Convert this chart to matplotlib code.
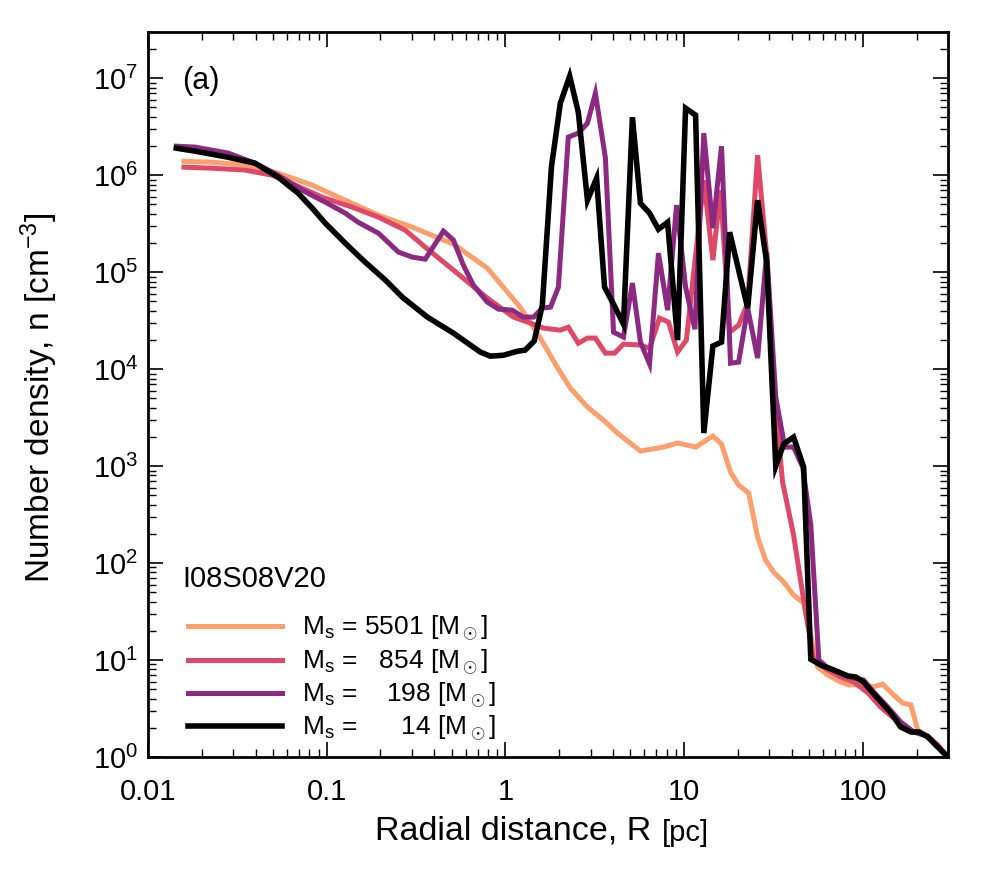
import matplotlib
matplotlib.use("Agg")
import matplotlib.pyplot as plt
from matplotlib.ticker import FixedLocator, FixedFormatter, LogLocator, NullFormatter

plt.rcParams['font.family'] = ['Liberation Sans', 'DejaVu Sans']
plt.rcParams['mathtext.fontset'] = 'custom'
plt.rcParams['mathtext.rm'] = 'Liberation Sans'
plt.rcParams['mathtext.it'] = 'Liberation Sans:italic'
plt.rcParams['mathtext.bf'] = 'Liberation Sans:bold'

# ---- data (R in pc, n in cm^-3) ----
r_5501 = [0.0159, 0.0229, 0.0349, 0.0535, 0.0830, 0.127, 0.195, 0.301, 0.512, 0.792,
          1.21, 1.51, 1.95, 2.31, 2.88, 3.54, 4.24, 5.70, 7.67, 9.20,
          11.6, 14.5, 16.2, 18.2, 20.2, 23.0, 25.8, 28.6, 31.7, 36.1,
          41.0, 46.7, 56.0, 63.7, 75.3, 83.6, 97.5, 115, 129, 149,
          167, 186, 203, 231, 299]
n_5501 = [1.39e6, 1.36e6, 1.27e6, 1.05e6, 7.89e5, 5.52e5, 3.87e5, 2.91e5, 1.95e5, 1.10e5,
          4.36e4, 2.35e4, 1.05e4, 6.37e3, 4.06e3, 2.98e3, 2.19e3, 1.43e3, 1.57e3, 1.73e3,
          1.57e3, 2.04e3, 1.69e3, 867, 637, 527, 185, 107, 80.7, 63.7,
          46.8, 38.7, 8.47, 7.00, 5.93, 5.52, 5.66, 5.27, 5.66, 4.36,
          3.61, 3.44, 1.90, 1.64, 1.0]

r_854 = [0.0159, 0.0229, 0.0349, 0.0495, 0.0667, 0.0944, 0.139, 0.195, 0.275, 0.356,
         0.512, 0.792, 1.11, 1.38, 1.63, 2.03, 2.25, 2.56, 2.88, 3.19,
         3.63, 4.08, 4.58, 5.70, 6.41, 7.29, 8.18, 9.20, 10.3, 12.9,
         14.5, 16.0, 18.0, 20.2, 22.7, 25.8, 29.0, 32.1, 35.6, 41.0,
         46.7, 53.1, 63.7, 75.3, 89.1, 107, 126, 149, 179, 203,
         231, 263, 299]
n_854 = [1.21e6, 1.18e6, 1.13e6, 1.00e6, 7.89e5, 5.93e5, 4.68e5, 3.69e5, 2.71e5, 1.81e5,
         1.05e5, 5.40e4, 3.44e4, 2.98e4, 2.65e4, 2.52e4, 2.71e4, 1.85e4, 2.09e4, 2.09e4,
         1.46e4, 1.46e4, 1.81e4, 1.77e4, 1.64e4, 3.36e4, 3.05e4, 1.50e4, 1.99e4, 8.87e5,
         1.33e5, 7.00e5, 2.40e4, 2.84e4, 4.79e4, 1.61e6, 1.50e5, 5.14e3, 684, 195,
         41.6, 10.0, 7.89, 6.68, 5.93, 4.57, 3.27, 2.52, 1.90, 1.77,
         1.64, 1.33, 1.0]

r_198 = [0.0144, 0.0183, 0.0281, 0.0397, 0.0535, 0.0729, 0.0982, 0.127, 0.150, 0.195,
         0.252, 0.301, 0.356, 0.450, 0.512, 0.582, 0.662, 0.792, 0.914, 1.09,
         1.26, 1.44, 1.61, 1.79, 1.98, 2.25, 2.56, 2.88, 3.19, 3.63,
         4.03, 4.58, 5.14, 5.70, 6.41, 7.19, 8.09, 9.08, 10.2, 11.5,
         12.9, 14.5, 16.2, 18.2, 20.2, 22.7, 25.8, 29.0, 32.6, 36.6,
         41.0, 46.1, 51.2, 56.8, 63.7, 75.3, 89.1, 101, 115, 138,
         163, 193, 231, 299]
n_198 = [1.99e6, 1.95e6, 1.69e6, 1.33e6, 1.00e6, 7.00e5, 5.27e5, 4.06e5, 3.27e5, 2.52e5,
         1.61e5, 1.43e5, 1.36e5, 2.65e5, 2.14e5, 1.18e5, 7.35e4, 4.91e4, 4.16e4, 4.06e4,
         3.44e4, 3.44e4, 4.26e4, 4.36e4, 7.00e4, 2.47e6, 2.71e6, 3.44e6, 7.00e6, 1.50e6,
         2.40e4, 2.14e4, 7.71e4, 1.90e4, 1.13e4, 1.57e5, 4.06e4, 4.91e5, 7.00e4, 2.58e4,
         2.71e6, 2.84e5, 1.99e6, 1.15e4, 1.18e4, 4.26e4, 1.30e4, 1.61e5, 5.14e3, 1.57e3,
         1.57e3, 977, 247, 10.0, 8.28, 7.35, 6.52, 6.22, 4.68, 3.27,
         2.30, 1.81, 1.64, 1.0]

r_14 = [0.0144, 0.0183, 0.0281, 0.0397, 0.0535, 0.0692, 0.0830, 0.0982, 0.127, 0.164,
        0.213, 0.265, 0.366, 0.512, 0.724, 0.824, 0.975, 1.17, 1.29, 1.45,
        1.61, 1.81, 2.03, 2.29, 2.56, 2.88, 3.24, 3.59, 4.03, 4.58,
        5.14, 5.70, 6.41, 7.19, 8.09, 9.20, 10.2, 11.6, 12.9, 14.5,
        16.2, 18.0, 22.7, 25.8, 29.0, 32.6, 36.1, 41.0, 46.7, 51.2,
        58.2, 68.9, 82.4, 91.4, 101, 121, 144, 163, 186, 206,
        231, 299]
n_14 = [1.90e6, 1.77e6, 1.53e6, 1.33e6, 9.53e5, 6.52e5, 4.57e5, 3.20e5, 1.99e5, 1.27e5,
        8.28e4, 5.52e4, 3.44e4, 2.35e4, 1.50e4, 1.36e4, 1.39e4, 1.53e4, 1.57e4, 1.95e4,
        4.57e4, 1.21e6, 5.52e6, 1.05e7, 4.46e6, 5.52e5, 9.31e5, 7.00e4, 4.68e4, 2.91e4,
        3.96e6, 5.14e5, 4.06e5, 2.77e5, 3.27e5, 1.99e4, 4.91e6, 4.16e6, 2.19e3, 1.73e4,
        1.90e4, 2.58e5, 4.26e4, 5.52e5, 1.27e5, 1.00e3, 1.69e3, 1.99e3, 977, 10.2,
        8.87, 7.89, 6.84, 6.68, 5.93, 4.06, 2.84, 2.04, 1.81, 1.81,
        1.61, 1.0]

series_r = [r_5501, r_854, r_198, r_14]
series_n = [n_5501, n_854, n_198, n_14]
series_labels = [r'M$_\mathrm{s}$ = 5501 [M$_\odot$]',
                 r'M$_\mathrm{s}$ =   854 [M$_\odot$]',
                 r'M$_\mathrm{s}$ =    198 [M$_\odot$]',
                 r'M$_\mathrm{s}$ =      14 [M$_\odot$]']
series_colors = ['#fe9f6d', '#de4968', '#8c2981', '#000000']
series_widths = [3.6, 3.6, 3.6, 4.0]

x_ticks = [0.01, 0.1, 1, 10, 100]
x_tick_labels = ['0.01', '0.1', '1', '10', '100']


def main() -> None:
    fig = plt.figure(figsize=(9.96, 8.73), dpi=100)
    ax = fig.add_axes([0.1486, 0.1329, 0.8032, 0.8305])

    for r, n, lab, c, w in zip(series_r, series_n, series_labels, series_colors, series_widths):
        ax.plot(r, n, color=c, lw=w, label=lab, solid_joinstyle='miter')

    ax.set_xscale('log')
    ax.set_yscale('log')
    ax.set_xlim(0.01, 300)
    ax.set_ylim(1, 3e7)

    ax.xaxis.set_major_locator(FixedLocator(x_ticks))
    ax.xaxis.set_major_formatter(FixedFormatter(x_tick_labels))
    ax.xaxis.set_minor_locator(LogLocator(base=10, subs=range(2, 10), numticks=20))
    ax.xaxis.set_minor_formatter(NullFormatter())
    ax.yaxis.set_major_locator(LogLocator(base=10, numticks=20))
    ax.yaxis.set_minor_locator(LogLocator(base=10, subs=range(2, 10), numticks=20))
    ax.yaxis.set_minor_formatter(NullFormatter())

    ax.tick_params(which='both', direction='in', top=True, right=True)
    ax.tick_params(which='major', length=11, width=1.2, labelsize=21)
    ax.tick_params(which='minor', length=6, width=1.0)
    ax.tick_params(axis='x', which='major', pad=15)
    ax.tick_params(axis='y', which='major', pad=7)
    for s in ax.spines.values():
        s.set_linewidth(2)

    ax.set_xlabel('Radial distance, R', fontsize=24.5)
    ax.xaxis.set_label_coords(0.457, -0.081)
    ax.annotate('[pc]', xy=(1, 0), xycoords=ax.xaxis.label, xytext=(7, 0),
                textcoords='offset points', ha='left', va='bottom', fontsize=21)
    ax.set_ylabel(r'Number density, n [cm$^{-3}$]', fontsize=24)
    ax.yaxis.set_label_coords(-0.11, 0.495)

    ax.text(0.0425, 0.932, '(a)', transform=ax.transAxes, fontsize=22,
            ha='left', va='center')
    ax.text(0.0425, 0.2455, 'I08S08V20', transform=ax.transAxes, fontsize=21,
            ha='left', va='center')

    ax.legend(loc='upper left', bbox_to_anchor=(0.05, 0.197), frameon=False,
              fontsize=19, handlelength=3.56, handletextpad=0.76,
              labelspacing=0.15, borderpad=0, borderaxespad=0)

    fig.savefig('out.png', dpi=100)


if __name__ == '__main__':
    main()
